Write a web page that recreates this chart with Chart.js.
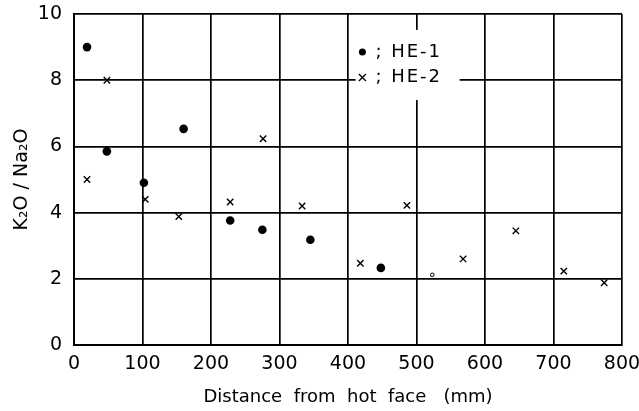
<!DOCTYPE html>
<html>
<head>
<meta charset="utf-8">
<script src="https://cdn.jsdelivr.net/npm/chart.js@4"></script>
<style>
  body { margin: 0; background: #fff; }
  #wrap { width: 639px; height: 411px; }
</style>
</head>
<body>
<div id="wrap"><canvas id="chart"></canvas></div>
<script>
// --- data ---
const he1X = [19, 48, 102, 160, 228, 275, 345, 448];
const he1Y = [9.0, 5.85, 4.9, 6.53, 3.76, 3.48, 3.18, 2.33];

const he2X = [19, 48, 104, 153, 228, 276, 333, 418, 486, 568, 645, 715, 774];
const he2Y = [5.0, 8.0, 4.4, 3.88, 4.32, 6.23, 4.2, 2.47, 4.22, 2.6, 3.45, 2.23, 1.88];

// small open mark near 520 mm
const oddX = [523];
const oddY = [2.12];

const xTicks = [0, 100, 200, 300, 400, 500, 600, 700, 800];
const yTicks = [0, 2, 4, 6, 8, 10];

const labels = ['HE-1', 'HE-2'];

function toPoints(xs, ys) {
    return xs.map((x, i) => ({ x: x, y: ys[i] }));
}

// legend drawn inside the plot on a white patch, like the original
const innerLegend = {
    id: 'innerLegend',
    afterDatasetsDraw(chart) {
        const ctx = chart.ctx;
        const sx = chart.scales.x, sy = chart.scales.y;
        const left = sx.getPixelForValue(411), right = sx.getPixelForValue(563);
        const top = sy.getPixelForValue(9.52), bottom = sy.getPixelForValue(7.4);
        ctx.save();
        ctx.fillStyle = '#fff';
        ctx.fillRect(left, top, right - left, bottom - top);

        const mx = sx.getPixelForValue(421);
        const rows = [sy.getPixelForValue(8.85), sy.getPixelForValue(8.08)];
        ctx.fillStyle = '#000';
        ctx.strokeStyle = '#000';

        // dot
        ctx.beginPath();
        ctx.arc(mx, rows[0], 3.5, 0, Math.PI * 2);
        ctx.fill();
        // cross
        ctx.lineWidth = 1.3;
        ctx.beginPath();
        ctx.moveTo(mx - 3.5, rows[1] - 3.5); ctx.lineTo(mx + 3.5, rows[1] + 3.5);
        ctx.moveTo(mx + 3.5, rows[1] - 3.5); ctx.lineTo(mx - 3.5, rows[1] + 3.5);
        ctx.stroke();

        ctx.font = '18px "DejaVu Sans"';
        ctx.textBaseline = 'middle';
        ctx.letterSpacing = '2px';
        labels.forEach((t, i) => {
            ctx.fillText('; ' + t, mx + 13, rows[i]);
        });
        ctx.restore();
    }
};

const tickFont = { family: 'DejaVu Sans', size: 19 };

new Chart(document.getElementById('chart'), {
    type: 'scatter',
    data: {
        datasets: [
            {
                label: labels[0],
                data: toPoints(he1X, he1Y),
                pointStyle: 'circle',
                pointRadius: 4.3,
                backgroundColor: '#000',
                borderColor: '#000',
                borderWidth: 0
            },
            {
                label: labels[1],
                data: toPoints(he2X, he2Y),
                pointStyle: 'crossRot',
                pointRadius: 4.5,
                borderColor: '#000',
                borderWidth: 1.4
            },
            {
                label: 'odd',
                data: toPoints(oddX, oddY),
                pointStyle: 'circle',
                pointRadius: 1.8,
                backgroundColor: '#fff',
                borderColor: '#000',
                borderWidth: 1
            }
        ]
    },
    options: {
        responsive: true,
        maintainAspectRatio: false,
        animation: false,
        layout: { padding: { top: 14, right: 17, left: 0, bottom: 0 } },
        plugins: {
            legend: { display: false },
            tooltip: { enabled: false }
        },
        scales: {
            x: {
                type: 'linear',
                min: 0,
                max: 800,
                afterBuildTicks: s => { s.ticks = xTicks.map(v => ({ value: v })); },
                afterFit: s => { s.height = 66; s.paddingLeft = 0; s.paddingRight = 0; },
                grid: { color: '#000', lineWidth: 1.7, drawTicks: false },
                border: { color: '#000', width: 2 },
                ticks: { color: '#000', font: tickFont, padding: 8, maxRotation: 0 },
                title: {
                    display: true,
                    text: 'Distance  from  hot  face   (mm)',
                    color: '#000',
                    font: { family: 'DejaVu Sans', size: 18 },
                    padding: { top: 0, bottom: 3 }
                }
            },
            y: {
                min: 0,
                max: 10,
                afterBuildTicks: s => { s.ticks = yTicks.map(v => ({ value: v })); },
                afterFit: s => { s.width = 74; s.paddingTop = 0; s.paddingBottom = 0; },
                grid: { color: '#000', lineWidth: 1.7, drawTicks: false },
                border: { color: '#000', width: 2 },
                ticks: { color: '#000', font: tickFont, padding: 12 },
                title: {
                    display: true,
                    text: 'K₂O / Na₂O',
                    color: '#000',
                    font: { family: 'DejaVu Sans', size: 19 },
                    padding: { top: 11, bottom: 0 }
                }
            }
        }
    },
    plugins: [innerLegend]
});
</script>
</body>
</html>
